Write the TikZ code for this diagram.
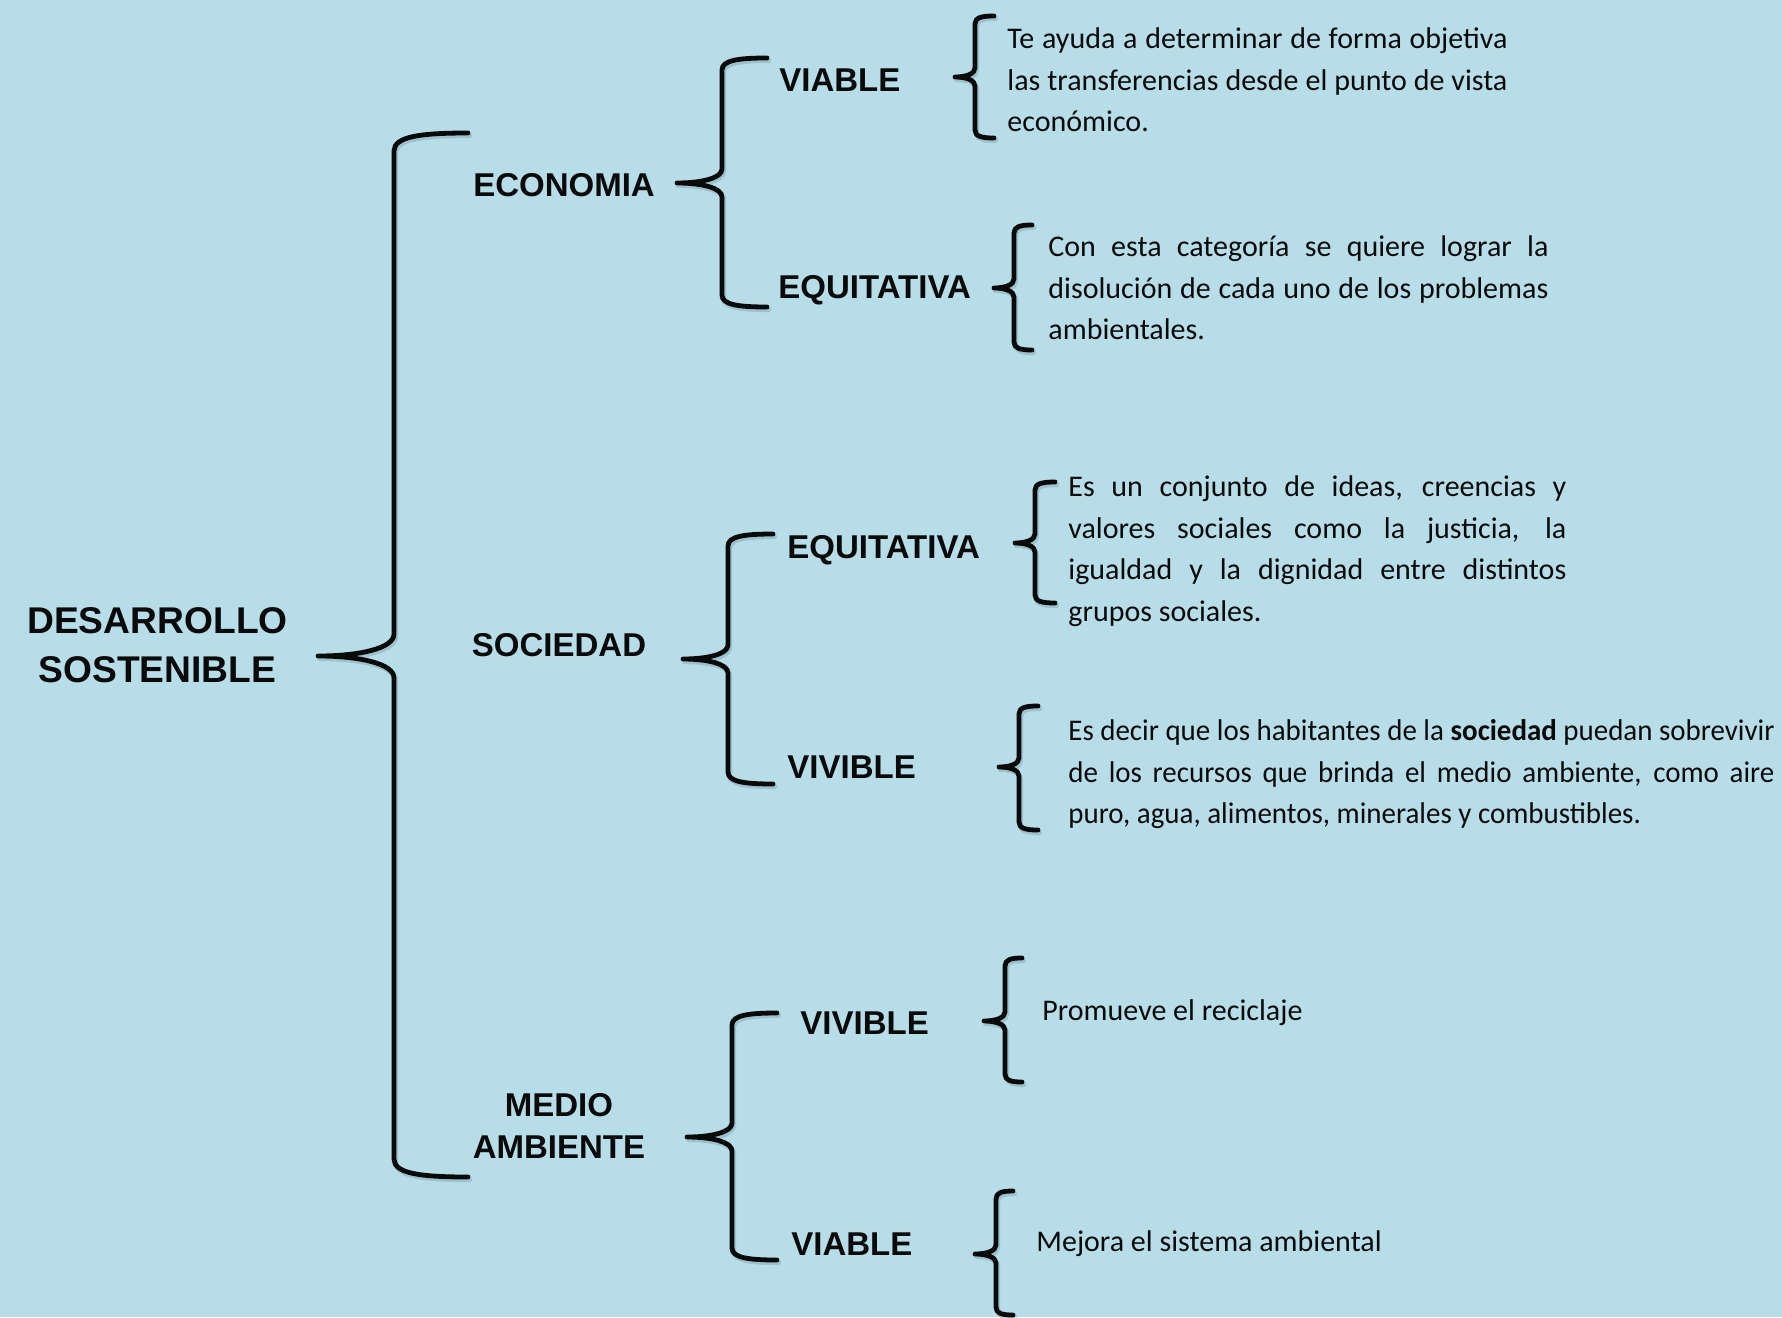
\documentclass[tikz,border=0pt]{standalone}
\usepackage{fontspec}
\setmainfont{Carlito}
\newfontfamily\labfont{Liberation Sans}
\definecolor{bgblue}{HTML}{B7DDE8}
\definecolor{shadowc}{HTML}{7FA3AE}
\definecolor{ink}{HTML}{0A0A0A}
% #1 vx, #2 top y, #3 arm end x, #4 bottom y, #5 tip x, #6 tip y, #7 corner r, #8 tip h
\newcommand\mybrace[8]{%
 \draw[brcsh] ({#3+1.5},{#2+2.5}) .. controls ({#1+1.5+0.35*(#3-#1)},{#2+2.5}) and ({#1+1.5},{#2+2.5+0.2*#7}) .. ({#1+1.5},{#2+2.5+#7})
 -- ({#1+1.5},{#6+2.5-#8}) .. controls ({#1+1.5},{#6+2.5-0.35*#8}) and ({#1+1.5-0.45*(#1-#5)},{#6+2.5}) .. ({#5+1.5},{#6+2.5})
 .. controls ({#1+1.5-0.45*(#1-#5)},{#6+2.5}) and ({#1+1.5},{#6+2.5+0.35*#8}) .. ({#1+1.5},{#6+2.5+#8})
 -- ({#1+1.5},{#4+2.5-#7}) .. controls ({#1+1.5},{#4+2.5-0.2*#7}) and ({#1+1.5+0.35*(#3-#1)},{#4+2.5}) .. ({#3+1.5},{#4+2.5});
 \draw[brc] ({#3},{#2}) .. controls ({#1+0.35*(#3-#1)},{#2}) and ({#1},{#2+0.2*#7}) .. ({#1},{#2+#7})
 -- ({#1},{#6-#8}) .. controls ({#1},{#6-0.35*#8}) and ({#1-0.45*(#1-#5)},{#6}) .. ({#5},{#6})
 .. controls ({#1-0.45*(#1-#5)},{#6}) and ({#1},{#6+0.35*#8}) .. ({#1},{#6+#8})
 -- ({#1},{#4-#7}) .. controls ({#1},{#4-0.2*#7}) and ({#1+0.35*(#3-#1)},{#4}) .. ({#3},{#4});
}
\begin{document}
\begin{tikzpicture}[x=0.5pt,y=-0.5pt,line cap=round,line join=round,
  brc/.style={line width=2.4pt,draw=ink},
  brcsh/.style={line width=2.6pt,draw=shadowc,opacity=0.45},
  lab/.style={font=\labfont\bfseries\fontsize{16.5}{21}\selectfont,inner sep=0pt,text=ink},
  toplab/.style={font=\labfont\bfseries\fontsize{18.6}{24.5}\selectfont,inner sep=0pt,text=ink},
  body/.style={font=\fontsize{15}{20.75}\selectfont,inner sep=0pt,text=ink,anchor=base west}]
\fill[bgblue] (0,0) rectangle (1782,1317);
\useasboundingbox (0,0) rectangle (1782,1317);

% braces
\mybrace{394}{133}{468}{1177}{318}{656}{18}{22}
\mybrace{722}{58}{767}{307}{677}{183}{12}{14}
\mybrace{975}{16}{994}{138}{955}{77}{8}{9}
\mybrace{1014}{225}{1032}{350}{994}{288}{8}{9}
\mybrace{728}{534}{773}{784}{683}{659}{12}{14}
\mybrace{1035}{482}{1055}{603}{1015}{543}{8}{9}
\mybrace{1019}{706}{1038}{830}{999}{767}{8}{9}
\mybrace{732}{1013}{777}{1260}{687}{1137}{12}{14}
\mybrace{1005}{958}{1022}{1082}{984}{1021}{8}{9}
\mybrace{996}{1191}{1013}{1315}{975}{1254}{8}{9}

% main label
\node[toplab,anchor=base,text width=150pt,align=center] (ds) at (157.5,633) {DESARROLLO\\SOSTENIBLE};

% level 1
\node[lab,anchor=base] (eco) at (564,196) {ECONOMIA};
\node[lab,anchor=base] (soc) at (559,656.5) {SOCIEDAD};
\node[lab,anchor=base,text width=120pt,align=center] (med) at (559,1116) {MEDIO\\AMBIENTE};

% level 2
\node[lab,anchor=base west] (ecov) at (779,91) {VIABLE};
\node[lab,anchor=base west] (ecoe) at (778,298) {EQUITATIVA};
\node[lab,anchor=base west] (soce) at (787,558) {EQUITATIVA};
\node[lab,anchor=base west] (socv) at (787,778) {VIVIBLE};
\node[lab,anchor=base west] (medv) at (800,1034) {VIVIBLE};
\node[lab,anchor=base west] (meda) at (791,1255) {VIABLE};

% descriptions
\node[body,text width=250pt,align=justify] (t1) at (1007,48.5)
 {Te ayuda a determinar de forma objetiva\linebreak las transferencias desde el punto de vista\linebreak económico.};
\node[body,text width=250pt,align=justify] (t2) at (1048,256.5)
 {Con esta categoría se quiere lograr la\linebreak disolución de cada uno de los problemas\linebreak ambientales.};
\node[body,text width=249pt,align=justify] (t3) at (1068,496.5)
 {Es un conjunto de ideas, creencias y\linebreak valores sociales como la justicia, la\linebreak igualdad y la dignidad entre distintos\linebreak grupos sociales.};
\node[body,text width=353pt,align=justify] (t4) at (1068,740.5)
 {\addfontfeature{FakeStretch=0.965}Es decir que los habitantes de la \textbf{sociedad} puedan sobrevivir\linebreak de los recursos que brinda el medio ambiente, como aire\linebreak puro, agua, alimentos, minerales y combustibles.};
\node[body] (t5) at (1042,1020.5) {Promueve el reciclaje};
\node[body] (t6) at (1036,1251.5) {Mejora el sistema ambiental};
\end{tikzpicture}
\end{document}
